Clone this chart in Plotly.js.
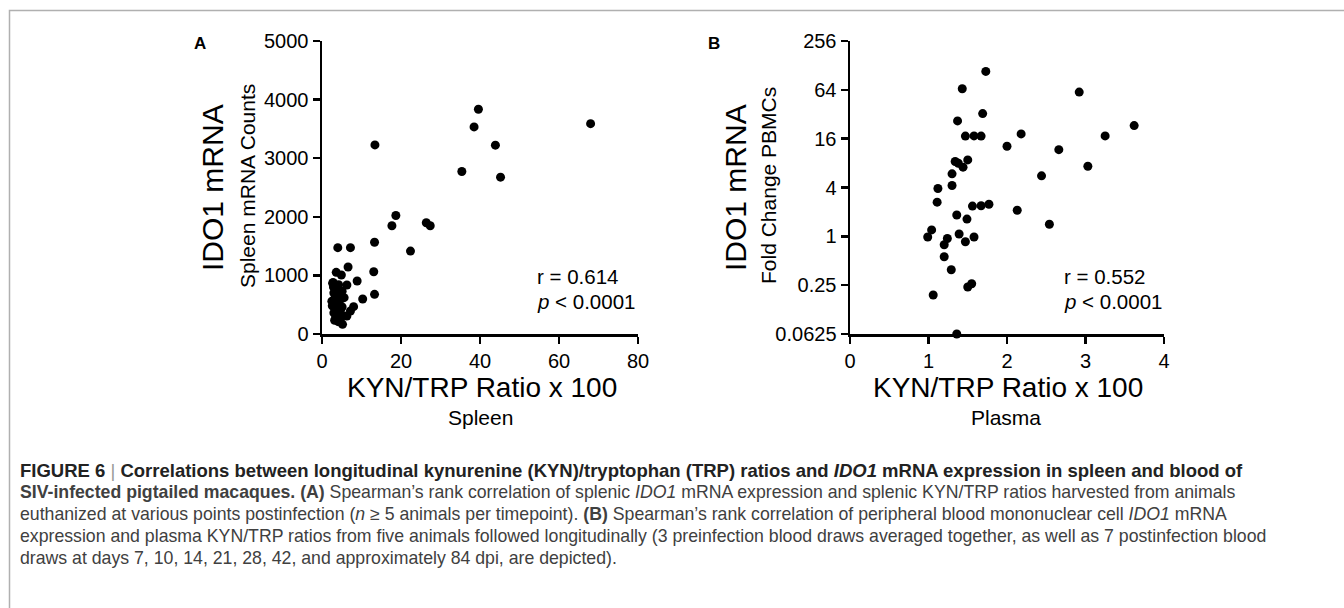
<!DOCTYPE html>
<html>
<head>
<meta charset="utf-8">
<script src="https://cdn.plot.ly/plotly-3.0.1.min.js"></script>
<style>
html,body{margin:0;padding:0;background:#fff;}
#chart{width:1344px;height:608px;}
</style>
</head>
<body>
<div id="chart"></div>
<script>
// ---- Data ----
// Panel A: spleen KYN/TRP ratio x100 vs spleen IDO1 mRNA counts
const spleenRatio = [68.0, 39.6, 38.5, 43.9, 45.2, 35.4, 13.4, 18.7, 17.7, 26.4, 27.4, 22.4,
  13.3, 13.1, 13.3, 10.3, 8.9, 7.2, 4.0, 6.6, 3.6, 4.9, 6.3, 2.7, 8.0, 7.2, 6.3, 5.2,
  3.0, 2.5, 3.2, 4.6, 3.6, 5.1, 3.0, 4.5, 3.2, 4.6, 3.8, 4.2, 5.1, 3.4, 2.9, 4.0,
  4.8, 3.8, 4.2, 3.5, 4.1, 5.6, 2.6, 3.3, 5.0, 2.8];
const spleenCounts = [3590, 3835, 3534, 3222, 2676, 2773, 3227, 2023, 1847, 1898, 1847, 1415,
  1565, 1063, 677, 597, 904, 1473, 1473, 1143, 1052, 1007, 836, 865, 466, 392, 307, 165,
  700, 560, 600, 585, 470, 460, 360, 370, 235, 245, 275, 840, 730, 690, 800, 780,
  650, 520, 420, 300, 210, 620, 480, 420, 330, 880];

// Panel B: plasma KYN/TRP ratio x100 vs PBMC IDO1 mRNA fold change
const plasmaRatio = [1.73, 1.43, 2.92, 1.69, 1.37, 3.62, 2.18, 1.47, 1.58, 1.67, 3.25, 2.00,
  2.66, 3.03, 1.34, 1.38, 1.44, 1.50, 1.30, 2.44, 1.30, 1.12, 1.11, 1.56, 1.67, 1.77,
  2.13, 1.36, 1.49, 2.54, 1.04, 0.99, 1.39, 1.58, 1.24, 1.47, 1.20, 1.20, 1.29, 1.55,
  1.50, 1.06, 1.36];
const pbmcFold = [108, 66, 60, 32.6, 26.5, 23.2, 18.3, 17.2, 17.3, 17.2, 17.3, 12.9,
  11.7, 7.32, 8.36, 7.97, 7.12, 8.76, 5.89, 5.57, 4.23, 3.89, 2.64, 2.36, 2.38, 2.49,
  2.10, 1.83, 1.63, 1.41, 1.20, 0.98, 1.07, 0.98, 0.94, 0.857, 0.787, 0.56, 0.387, 0.26,
  0.237, 0.189, 0.0625];

// Tick definitions
const xTicksA = [0, 20, 40, 60, 80];
const yTicksA = [0, 1000, 2000, 3000, 4000, 5000];
const xTicksB = [0, 1, 2, 3, 4];
const yTicksB = [0.0625, 0.25, 1, 4, 16, 64, 256];
const yTickTextB = ['0.0625', '0.25', '1', '4', '16', '64', '256'];

// ---- Layout helpers (pixel -> paper) ----
const W = 1344, H = 608;
const px = x => x / W;
const py = y => 1 - y / H;

const FONT = 'Arial, Liberation Sans, Helvetica, sans-serif';
const marker = {color: '#000', size: 9};

const traces = [
  {x: spleenRatio, y: spleenCounts, type: 'scatter', mode: 'markers', marker: marker,
   xaxis: 'x', yaxis: 'y', cliponaxis: false, hoverinfo: 'x+y'},
  {x: plasmaRatio, y: pbmcFold, type: 'scatter', mode: 'markers', marker: marker,
   xaxis: 'x2', yaxis: 'y2', cliponaxis: false, hoverinfo: 'x+y'}
];

const axisCommon = {
  showline: true, linecolor: '#000', linewidth: 2.5,
  ticks: 'outside', ticklen: 7, tickwidth: 2.5, tickcolor: '#000',
  showgrid: false, zeroline: false,
  tickfont: {family: FONT, size: 20, color: '#000'},
  fixedrange: true
};

function ann(text, x, y, opts) {
  return Object.assign({text: text, x: px(x), y: py(y), xref: 'paper', yref: 'paper',
    showarrow: false, xanchor: 'center', yanchor: 'middle',
    font: {family: FONT, size: 20, color: '#000'}}, opts || {});
}

const capFont = {family: FONT, size: 17.7, color: '#404040'};
const capX = 18;

const annotations = [
  ann('<b>A</b>', 200, 43, {font: {family: FONT, size: 17, color: '#000'}}),
  ann('<b>B</b>', 714, 43, {font: {family: FONT, size: 17, color: '#000'}}),
  ann('IDO1 mRNA', 212, 188, {textangle: -90, font: {family: FONT, size: 30, color: '#000'}}),
  ann('Spleen mRNA Counts', 247, 186, {textangle: -90, font: {family: FONT, size: 21, color: '#000'}}),
  ann('IDO1 mRNA', 735, 188, {textangle: -90, font: {family: FONT, size: 30, color: '#000'}}),
  ann('Fold Change PBMCs', 768, 186, {textangle: -90, font: {family: FONT, size: 21, color: '#000'}}),
  ann('KYN/TRP Ratio x 100', 482, 387, {font: {family: FONT, size: 28, color: '#000'}}),
  ann('Spleen', 480, 417, {font: {family: FONT, size: 21, color: '#000'}}),
  ann('KYN/TRP Ratio x 100', 1008, 387, {font: {family: FONT, size: 28, color: '#000'}}),
  ann('Plasma', 1006, 417, {font: {family: FONT, size: 21, color: '#000'}}),
  ann('r = 0.614', 535, 276, {xanchor: 'left', font: {family: FONT, size: 20.5, color: '#000'}}),
  ann('<i>p</i> &lt; 0.0001', 535, 301, {xanchor: 'left', font: {family: FONT, size: 20.5, color: '#000'}}),
  ann('r = 0.552', 1062, 276, {xanchor: 'left', font: {family: FONT, size: 20.5, color: '#000'}}),
  ann('<i>p</i> &lt; 0.0001', 1062, 301, {xanchor: 'left', font: {family: FONT, size: 20.5, color: '#000'}}),
  ann('<b>FIGURE 6</b> <span style="color:#999">|</span> <b>Correlations between longitudinal kynurenine (KYN)/tryptophan (TRP) ratios and <i>IDO1</i> mRNA expression in spleen and blood of</b>',
      capX, 470, {xanchor: 'left', font: {family: FONT, size: 18.5, color: '#222'}}),
  ann('<b>SIV-infected pigtailed macaques.</b> <b>(A)</b> Spearman\u2019s rank correlation of splenic <i>IDO1</i> mRNA expression and splenic KYN/TRP ratios harvested from animals',
      capX, 492, {xanchor: 'left', font: capFont}),
  ann('euthanized at various points postinfection (<i>n</i> \u2265 5 animals per timepoint). <b>(B)</b> Spearman\u2019s rank correlation of peripheral blood mononuclear cell <i>IDO1</i> mRNA',
      capX, 514, {xanchor: 'left', font: capFont}),
  ann('expression and plasma KYN/TRP ratios from five animals followed longitudinally (3 preinfection blood draws averaged together, as well as 7 postinfection blood',
      capX, 536, {xanchor: 'left', font: capFont}),
  ann('draws at days 7, 10, 14, 21, 28, 42, and approximately 84 dpi, are depicted).',
      capX, 558, {xanchor: 'left', font: capFont})
];

const layout = {
  width: W, height: H,
  margin: {l: 0, r: 0, t: 0, b: 0},
  paper_bgcolor: '#fff', plot_bgcolor: '#fff',
  showlegend: false,
  xaxis: Object.assign({}, axisCommon, {domain: [px(322), px(638)], range: [0, 80],
    tickmode: 'array', tickvals: xTicksA, anchor: 'y'}),
  yaxis: Object.assign({}, axisCommon, {domain: [py(334), py(41)], range: [0, 5000],
    tickmode: 'array', tickvals: yTicksA, anchor: 'x'}),
  xaxis2: Object.assign({}, axisCommon, {domain: [px(850), px(1164)], range: [0, 4],
    tickmode: 'array', tickvals: xTicksB, anchor: 'y2'}),
  yaxis2: Object.assign({}, axisCommon, {domain: [py(334), py(41)], type: 'log',
    range: [Math.log10(0.0625), Math.log10(256)],
    tickmode: 'array', tickvals: yTicksB, ticktext: yTickTextB, anchor: 'x2'}),
  annotations: annotations,
  shapes: [{type: 'rect', xref: 'paper', yref: 'paper', x0: px(9.5), x1: 1.05, y0: -0.05, y1: py(10.5),
    line: {color: '#b0b0b0', width: 1.5}}]
};

Plotly.newPlot('chart', traces, layout, {displayModeBar: false, staticPlot: true});
</script>
</body>
</html>
